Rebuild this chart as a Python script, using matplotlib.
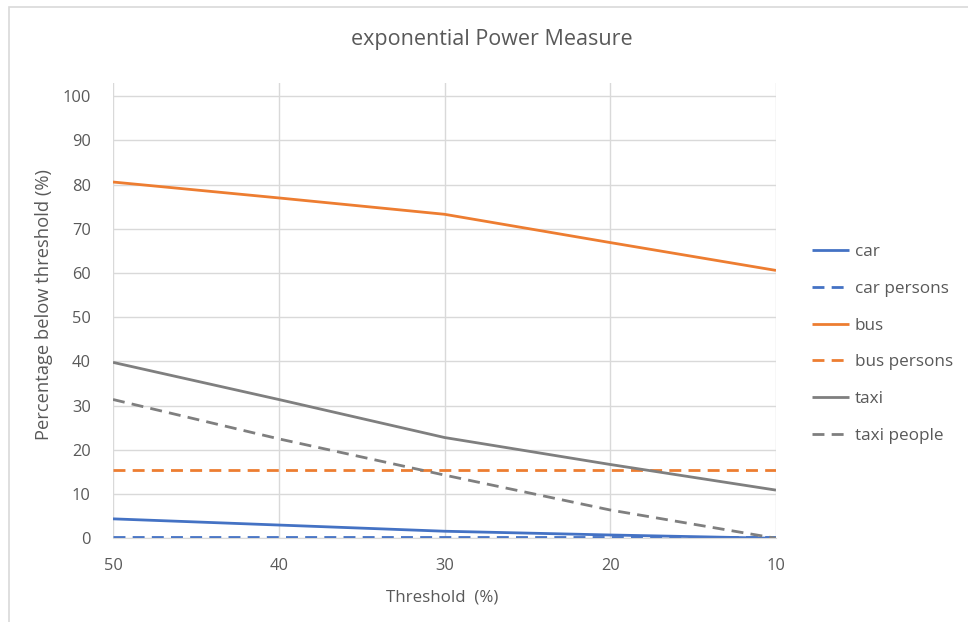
import matplotlib
matplotlib.use("Agg")
import matplotlib.pyplot as plt
from matplotlib.patches import Rectangle

thresholds = [50, 40, 30, 20, 10]
car = [4.4, 3.0, 1.6, 0.75, 0.0]
car_persons = [0.2, 0.2, 0.2, 0.2, 0.2]
bus = [80.6, 77.0, 73.3, 66.9, 60.6]
bus_persons = [15.5, 15.5, 15.5, 15.5, 15.5]
taxi = [39.8, 31.4, 22.8, 16.7, 10.9]
taxi_people = [31.4, 22.5, 14.3, 6.4, 0.0]

series_names = ["car", "car persons", "bus", "bus persons", "taxi", "taxi people"]
series_vals = [car, car_persons, bus, bus_persons, taxi, taxi_people]
colors = ["#4472C4", "#4472C4", "#ED7D31", "#ED7D31", "#7F7F7F", "#7F7F7F"]
dashed = [False, True, False, True, False, True]

plt.rcParams['font.family'] = ['Open Sans', 'DejaVu Sans']
txt = "#595959"

fig = plt.figure(figsize=(9.68, 6.22), dpi=100)
fig.patches.append(Rectangle((9/968, -0.1), 1.2, (622-7)/622 + 0.1, transform=fig.transFigure,
                             fill=False, edgecolor="#D9D9D9", linewidth=1.2))
ax = fig.add_axes([113/968, (622-538.3)/622, (776-113)/968, (538.3-83)/622])

for name, vals, c, d in zip(series_names, series_vals, colors, dashed):
    line, = ax.plot(thresholds, vals, color=c, linewidth=2, label=name, solid_capstyle='butt')
    if d:
        line.set_dashes((4.3, 2.6))

ax.set_xlim(50, 10)
ax.set_ylim(0, 103)
ax.set_xticks(thresholds)
ax.set_yticks(range(0, 101, 10))
ax.grid(True, color="#D9D9D9", linewidth=1)
ax.set_axisbelow(True)
for s in ["top", "right", "left"]:
    ax.spines[s].set_visible(False)
ax.spines["bottom"].set_color("#D9D9D9")
ax.tick_params(length=0, colors=txt, labelsize=11.8)
ax.tick_params(axis='y', pad=16)
ax.tick_params(axis='x', pad=14)

fig.text(492/968, 1 - 40/622, "exponential Power Measure", ha="center", va="center",
         fontsize=15.5, color=txt)
fig.text(442/968, 1 - 597/622, "Threshold  (%)", ha="center", va="center", fontsize=12.2, color=txt)
fig.text(44/968, 1 - 305/622, "Percentage below threshold (%)", ha="center", va="center",
         rotation=90, fontsize=13.2, color=txt)

leg = ax.legend(loc="upper left", bbox_to_anchor=(805/968, 1 - 237/622), bbox_transform=fig.transFigure,
                frameon=False, fontsize=12.3, labelspacing=1.22, handlelength=2.2, handletextpad=0.3,
                borderaxespad=0)
for t in leg.get_texts():
    t.set_color(txt)

fig.savefig("out.png", dpi=100)
